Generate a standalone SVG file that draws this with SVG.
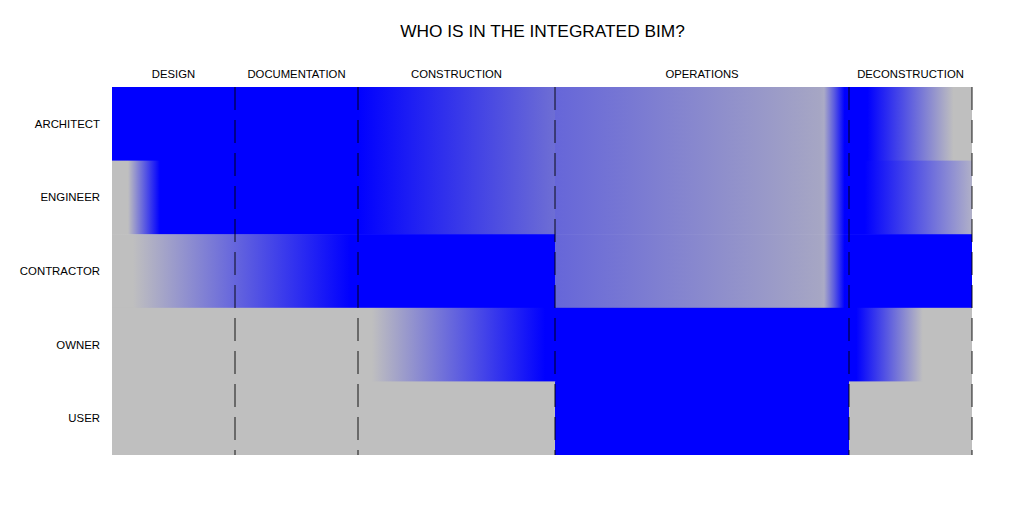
<svg xmlns="http://www.w3.org/2000/svg" width="1024" height="512" viewBox="0 0 1024 512">
<style>
text{font-family:"Liberation Sans",Arial,sans-serif;fill:#000}
.title{font-size:17.3px;text-anchor:middle}
.hdr{font-size:11.3px;text-anchor:middle}
.row{font-size:11.4px;text-anchor:end}
.gray{fill:#bfbfbf}
.blue{fill:#0000ff}
.div{stroke:#000;stroke-opacity:0.6;stroke-width:1.5;stroke-dasharray:23 10;fill:none}
</style>
<defs>
<linearGradient id="gEngDesign" gradientUnits="userSpaceOnUse" x1="112" y1="0" x2="235" y2="0">
<stop offset="0.13" stop-color="#bfbfbf"/><stop offset="0.39" stop-color="#0000ff"/>
</linearGradient>
<linearGradient id="gConDesign" gradientUnits="userSpaceOnUse" x1="112" y1="0" x2="358" y2="0">
<stop offset="0.085" stop-color="#bfbfbf"/><stop offset="0.97" stop-color="#0000ff"/>
</linearGradient>
<linearGradient id="gConstr" gradientUnits="userSpaceOnUse" x1="358" y1="0" x2="555" y2="0">
<stop offset="0" stop-color="#0000ff"/><stop offset="1" stop-color="#6e6ed4"/>
</linearGradient>
<linearGradient id="gOps" gradientUnits="userSpaceOnUse" x1="555" y1="0" x2="849" y2="0">
<stop offset="0" stop-color="#6666d9"/><stop offset="0.9" stop-color="#a6a6c4"/><stop offset="0.915" stop-color="#ababc6"/><stop offset="0.95" stop-color="#5a5ae0"/><stop offset="0.985" stop-color="#0000ff"/>
</linearGradient>
<linearGradient id="gDecon1" gradientUnits="userSpaceOnUse" x1="849" y1="0" x2="972" y2="0">
<stop offset="0.15" stop-color="#0000ff"/><stop offset="0.85" stop-color="#bfbfbf"/>
</linearGradient>
<linearGradient id="gDecon2" gradientUnits="userSpaceOnUse" x1="849" y1="0" x2="972" y2="0">
<stop offset="0.13" stop-color="#0000ff"/><stop offset="1" stop-color="#b0b0c8"/>
</linearGradient>
<linearGradient id="gOwnConstr" gradientUnits="userSpaceOnUse" x1="358" y1="0" x2="555" y2="0">
<stop offset="0.07" stop-color="#bfbfbf"/><stop offset="0.95" stop-color="#0000ff"/>
</linearGradient>
<linearGradient id="gOwnDecon" gradientUnits="userSpaceOnUse" x1="849" y1="0" x2="972" y2="0">
<stop offset="0.06" stop-color="#0000ff"/><stop offset="0.6" stop-color="#bfbfbf"/>
</linearGradient>
</defs>

<text class="title" x="542.5" y="37">WHO IS IN THE INTEGRATED BIM?</text>

<g id="headers">
<text class="hdr" x="173.5" y="77.5">DESIGN</text>
<text class="hdr" x="296.5" y="77.5">DOCUMENTATION</text>
<text class="hdr" x="456.5" y="77.5">CONSTRUCTION</text>
<text class="hdr" x="702" y="77.5">OPERATIONS</text>
<text class="hdr" x="910.5" y="77.5">DECONSTRUCTION</text>
</g>

<g id="architect">
<rect class="blue" x="112" y="87" width="246.5" height="74.2"/>
<rect fill="url(#gConstr)" x="358" y="87" width="197.5" height="74.2"/>
<rect fill="url(#gOps)" x="555" y="87" width="294.5" height="74.2"/>
<rect fill="url(#gDecon1)" x="849" y="87" width="123" height="74.2"/>
<text class="row" x="100" y="127.7">ARCHITECT</text>
</g>

<g id="engineer">
<rect fill="url(#gEngDesign)" x="112" y="160.6" width="123.5" height="74.2"/>
<rect class="blue" x="235" y="160.6" width="123.5" height="74.2"/>
<rect fill="url(#gConstr)" x="358" y="160.6" width="197.5" height="74.2"/>
<rect fill="url(#gOps)" x="555" y="160.6" width="294.5" height="74.2"/>
<rect fill="url(#gDecon2)" x="849" y="160.6" width="123" height="74.2"/>
<text class="row" x="100" y="201.3">ENGINEER</text>
</g>

<g id="contractor">
<rect fill="url(#gConDesign)" x="112" y="234.2" width="246.5" height="74.2"/>
<rect class="blue" x="358" y="234.2" width="197.5" height="74.2"/>
<rect fill="url(#gOps)" x="555" y="234.2" width="294.5" height="74.2"/>
<rect class="blue" x="849" y="234.2" width="123" height="74.2"/>
<text class="row" x="100" y="274.9">CONTRACTOR</text>
</g>

<g id="owner">
<rect class="gray" x="112" y="307.8" width="246.5" height="74.2"/>
<rect fill="url(#gOwnConstr)" x="358" y="307.8" width="197.5" height="74.2"/>
<rect class="blue" x="555" y="307.8" width="294.5" height="74.2"/>
<rect fill="url(#gOwnDecon)" x="849" y="307.8" width="123" height="74.2"/>
<text class="row" x="100" y="348.5">OWNER</text>
</g>

<g id="user">
<rect class="gray" x="112" y="381.4" width="443.5" height="73.6"/>
<rect class="blue" x="555" y="381.4" width="294.5" height="73.6"/>
<rect class="gray" x="849" y="381.4" width="123" height="73.6"/>
<text class="row" x="100" y="422.1">USER</text>
</g>

<g id="connectors">
<line class="div" x1="235" y1="87" x2="235" y2="455"/>
<line class="div" x1="358" y1="87" x2="358" y2="455"/>
<line class="div" x1="555" y1="87" x2="555" y2="455"/>
<line class="div" x1="849" y1="87" x2="849" y2="455"/>
<line class="div" x1="972" y1="87" x2="972" y2="455"/>
</g>
</svg>
